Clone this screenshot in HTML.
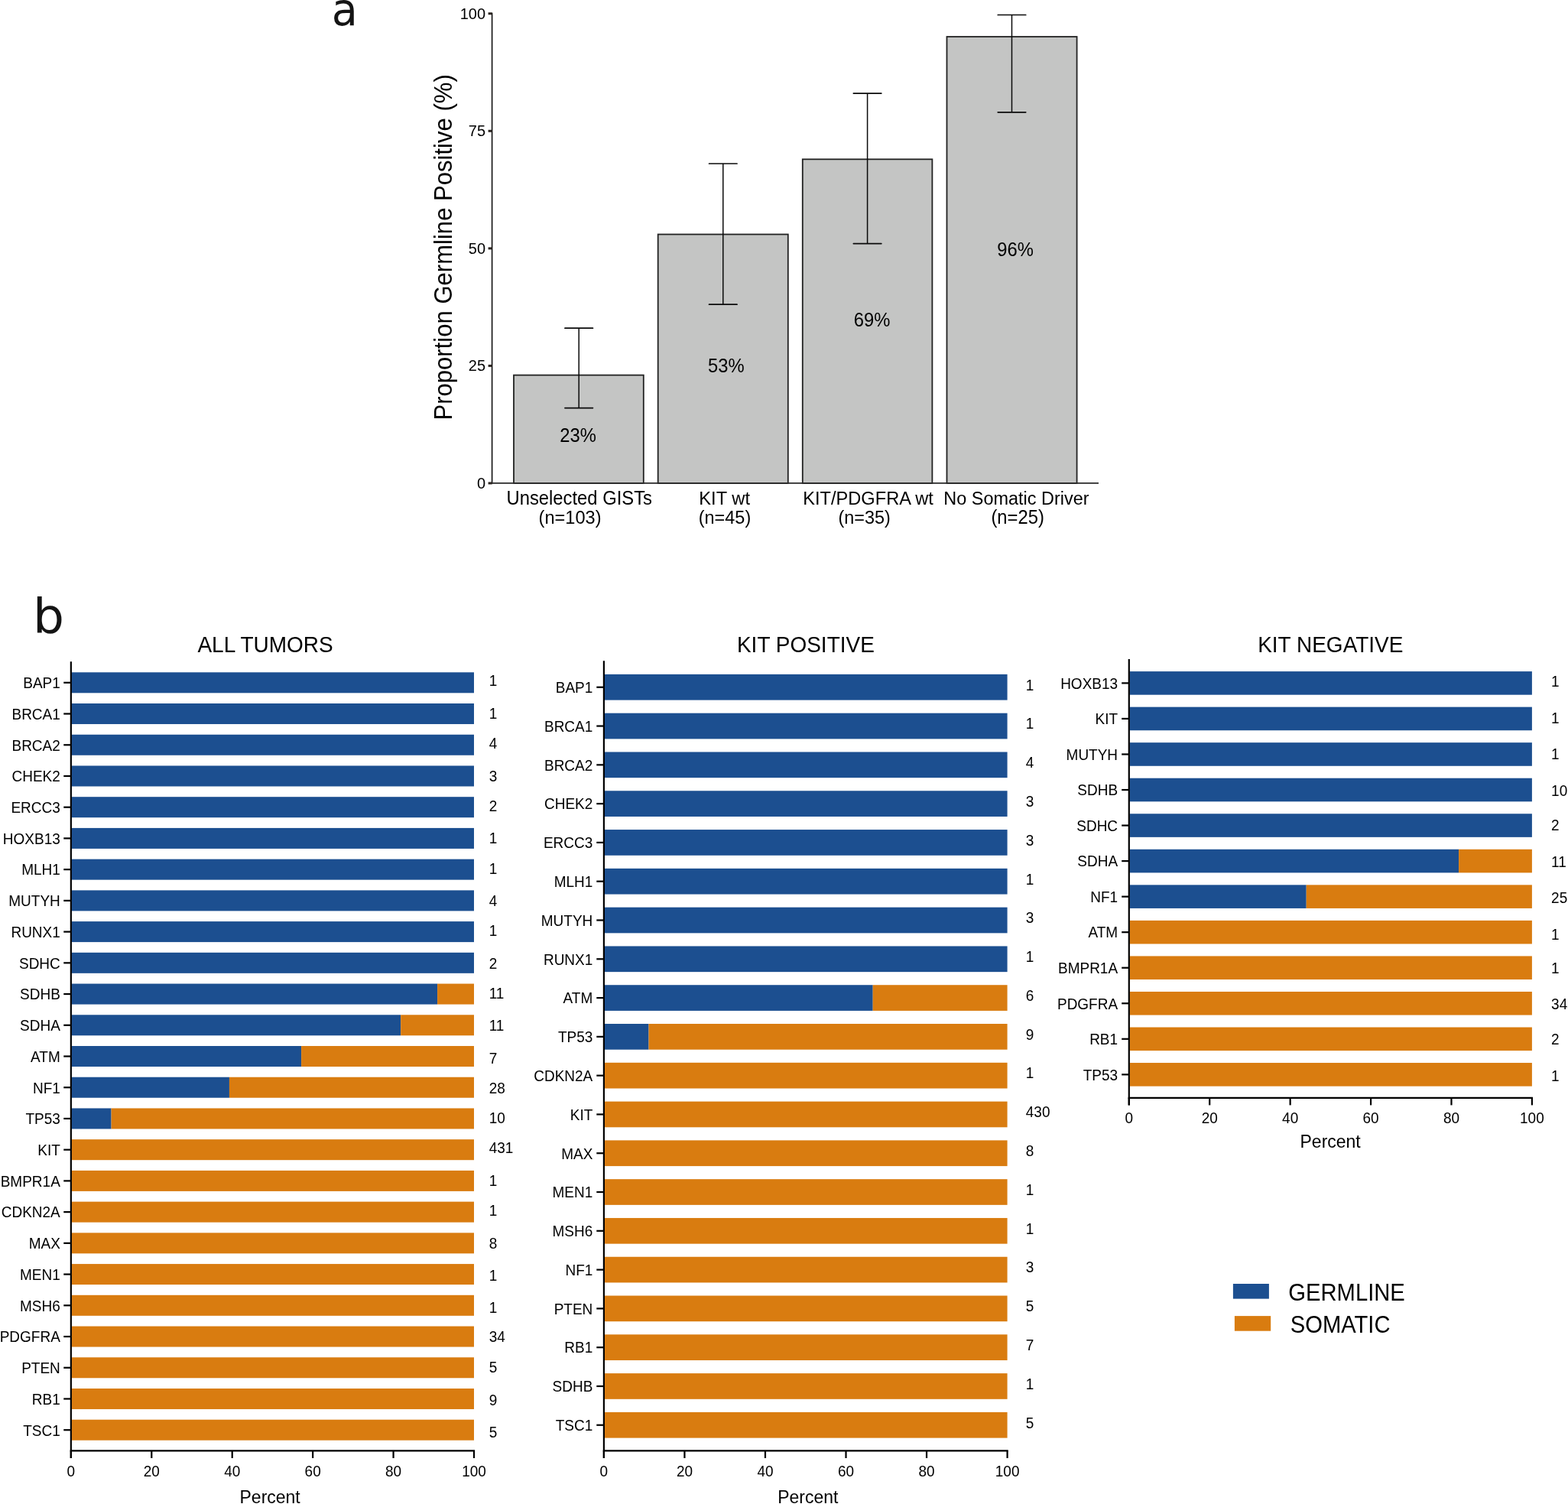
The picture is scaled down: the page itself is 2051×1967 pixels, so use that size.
<!DOCTYPE html><html><head><meta charset="utf-8"><title>Germline and somatic alterations in GIST</title><style>html,body{margin:0;padding:0;background:#fff}body{width:2051px;height:1967px}svg{display:block}text{font-family:'Liberation Sans', Arial, Helvetica, sans-serif}</style></head><body>
<svg width="2051" height="1967" viewBox="0 0 2051 1967">
<rect width="2051" height="1967" fill="#fff"/>
<rect x="672.00" y="490.60" width="169.80" height="141.35" fill="#c4c5c4" stroke="#222" stroke-width="1.8"/>
<rect x="860.70" y="306.50" width="170.10" height="325.45" fill="#c4c5c4" stroke="#222" stroke-width="1.8"/>
<rect x="1049.80" y="208.30" width="169.60" height="423.65" fill="#c4c5c4" stroke="#222" stroke-width="1.8"/>
<rect x="1238.50" y="48.00" width="170.10" height="583.95" fill="#c4c5c4" stroke="#222" stroke-width="1.8"/>
<line x1="757.20" y1="429.20" x2="757.20" y2="533.60" stroke="#0a0a0a" stroke-width="1.5" stroke-linecap="butt"/>
<line x1="738.95" y1="429.20" x2="775.45" y2="429.20" stroke="#0a0a0a" stroke-width="1.7" stroke-linecap="round"/>
<line x1="738.95" y1="533.60" x2="775.45" y2="533.60" stroke="#0a0a0a" stroke-width="1.7" stroke-linecap="round"/>
<line x1="945.80" y1="214.00" x2="945.80" y2="398.20" stroke="#0a0a0a" stroke-width="1.5" stroke-linecap="butt"/>
<line x1="927.55" y1="214.00" x2="964.05" y2="214.00" stroke="#0a0a0a" stroke-width="1.7" stroke-linecap="round"/>
<line x1="927.55" y1="398.20" x2="964.05" y2="398.20" stroke="#0a0a0a" stroke-width="1.7" stroke-linecap="round"/>
<line x1="1134.60" y1="122.10" x2="1134.60" y2="318.60" stroke="#0a0a0a" stroke-width="1.5" stroke-linecap="butt"/>
<line x1="1116.35" y1="122.10" x2="1152.85" y2="122.10" stroke="#0a0a0a" stroke-width="1.7" stroke-linecap="round"/>
<line x1="1116.35" y1="318.60" x2="1152.85" y2="318.60" stroke="#0a0a0a" stroke-width="1.7" stroke-linecap="round"/>
<line x1="1323.50" y1="19.50" x2="1323.50" y2="146.80" stroke="#0a0a0a" stroke-width="1.5" stroke-linecap="butt"/>
<line x1="1305.25" y1="19.50" x2="1341.75" y2="19.50" stroke="#0a0a0a" stroke-width="1.7" stroke-linecap="round"/>
<line x1="1305.25" y1="146.80" x2="1341.75" y2="146.80" stroke="#0a0a0a" stroke-width="1.7" stroke-linecap="round"/>
<line x1="643.60" y1="16.75" x2="643.60" y2="632.75" stroke="#111" stroke-width="1.6" stroke-linecap="butt"/>
<line x1="642.90" y1="631.95" x2="1437.00" y2="631.95" stroke="#2a2a2a" stroke-width="1.7" stroke-linecap="butt"/>
<line x1="638.60" y1="631.95" x2="643.60" y2="631.95" stroke="#2a2420" stroke-width="3.0" stroke-linecap="butt"/>
<line x1="638.60" y1="478.40" x2="643.60" y2="478.40" stroke="#2a2420" stroke-width="3.0" stroke-linecap="butt"/>
<line x1="638.60" y1="324.85" x2="643.60" y2="324.85" stroke="#2a2420" stroke-width="3.0" stroke-linecap="butt"/>
<line x1="638.60" y1="171.30" x2="643.60" y2="171.30" stroke="#2a2420" stroke-width="3.0" stroke-linecap="butt"/>
<line x1="638.60" y1="17.75" x2="643.60" y2="17.75" stroke="#2a2420" stroke-width="3.0" stroke-linecap="butt"/>
<rect x="93.85" y="879.30" width="526.15" height="27.00" fill="#1c4f90"/>
<line x1="83.25" y1="892.80" x2="92.85" y2="892.80" stroke="#000" stroke-width="2.2" stroke-linecap="butt"/>
<rect x="93.85" y="920.02" width="526.15" height="27.00" fill="#1c4f90"/>
<line x1="83.25" y1="933.52" x2="92.85" y2="933.52" stroke="#000" stroke-width="2.2" stroke-linecap="butt"/>
<rect x="93.85" y="960.75" width="526.15" height="27.00" fill="#1c4f90"/>
<line x1="83.25" y1="974.25" x2="92.85" y2="974.25" stroke="#000" stroke-width="2.2" stroke-linecap="butt"/>
<rect x="93.85" y="1001.47" width="526.15" height="27.00" fill="#1c4f90"/>
<line x1="83.25" y1="1014.97" x2="92.85" y2="1014.97" stroke="#000" stroke-width="2.2" stroke-linecap="butt"/>
<rect x="93.85" y="1042.20" width="526.15" height="27.00" fill="#1c4f90"/>
<line x1="83.25" y1="1055.70" x2="92.85" y2="1055.70" stroke="#000" stroke-width="2.2" stroke-linecap="butt"/>
<rect x="93.85" y="1082.92" width="526.15" height="27.00" fill="#1c4f90"/>
<line x1="83.25" y1="1096.42" x2="92.85" y2="1096.42" stroke="#000" stroke-width="2.2" stroke-linecap="butt"/>
<rect x="93.85" y="1123.65" width="526.15" height="27.00" fill="#1c4f90"/>
<line x1="83.25" y1="1137.15" x2="92.85" y2="1137.15" stroke="#000" stroke-width="2.2" stroke-linecap="butt"/>
<rect x="93.85" y="1164.38" width="526.15" height="27.00" fill="#1c4f90"/>
<line x1="83.25" y1="1177.88" x2="92.85" y2="1177.88" stroke="#000" stroke-width="2.2" stroke-linecap="butt"/>
<rect x="93.85" y="1205.10" width="526.15" height="27.00" fill="#1c4f90"/>
<line x1="83.25" y1="1218.60" x2="92.85" y2="1218.60" stroke="#000" stroke-width="2.2" stroke-linecap="butt"/>
<rect x="93.85" y="1245.83" width="526.15" height="27.00" fill="#1c4f90"/>
<line x1="83.25" y1="1259.33" x2="92.85" y2="1259.33" stroke="#000" stroke-width="2.2" stroke-linecap="butt"/>
<rect x="93.85" y="1286.55" width="478.23" height="27.00" fill="#1c4f90"/>
<rect x="572.08" y="1286.55" width="47.92" height="27.00" fill="#d97c10"/>
<line x1="83.25" y1="1300.05" x2="92.85" y2="1300.05" stroke="#000" stroke-width="2.2" stroke-linecap="butt"/>
<rect x="93.85" y="1327.28" width="430.30" height="27.00" fill="#1c4f90"/>
<rect x="524.15" y="1327.28" width="95.85" height="27.00" fill="#d97c10"/>
<line x1="83.25" y1="1340.78" x2="92.85" y2="1340.78" stroke="#000" stroke-width="2.2" stroke-linecap="butt"/>
<rect x="93.85" y="1368.00" width="300.23" height="27.00" fill="#1c4f90"/>
<rect x="394.08" y="1368.00" width="225.92" height="27.00" fill="#d97c10"/>
<line x1="83.25" y1="1381.50" x2="92.85" y2="1381.50" stroke="#000" stroke-width="2.2" stroke-linecap="butt"/>
<rect x="93.85" y="1408.72" width="206.09" height="27.00" fill="#1c4f90"/>
<rect x="299.94" y="1408.72" width="320.06" height="27.00" fill="#d97c10"/>
<line x1="83.25" y1="1422.22" x2="92.85" y2="1422.22" stroke="#000" stroke-width="2.2" stroke-linecap="butt"/>
<rect x="93.85" y="1449.45" width="51.72" height="27.00" fill="#1c4f90"/>
<rect x="145.56" y="1449.45" width="474.44" height="27.00" fill="#d97c10"/>
<line x1="83.25" y1="1462.95" x2="92.85" y2="1462.95" stroke="#000" stroke-width="2.2" stroke-linecap="butt"/>
<rect x="93.85" y="1490.17" width="526.15" height="27.00" fill="#d97c10"/>
<line x1="83.25" y1="1503.67" x2="92.85" y2="1503.67" stroke="#000" stroke-width="2.2" stroke-linecap="butt"/>
<rect x="93.85" y="1530.90" width="526.15" height="27.00" fill="#d97c10"/>
<line x1="83.25" y1="1544.40" x2="92.85" y2="1544.40" stroke="#000" stroke-width="2.2" stroke-linecap="butt"/>
<rect x="93.85" y="1571.62" width="526.15" height="27.00" fill="#d97c10"/>
<line x1="83.25" y1="1585.12" x2="92.85" y2="1585.12" stroke="#000" stroke-width="2.2" stroke-linecap="butt"/>
<rect x="93.85" y="1612.35" width="526.15" height="27.00" fill="#d97c10"/>
<line x1="83.25" y1="1625.85" x2="92.85" y2="1625.85" stroke="#000" stroke-width="2.2" stroke-linecap="butt"/>
<rect x="93.85" y="1653.07" width="526.15" height="27.00" fill="#d97c10"/>
<line x1="83.25" y1="1666.57" x2="92.85" y2="1666.57" stroke="#000" stroke-width="2.2" stroke-linecap="butt"/>
<rect x="93.85" y="1693.80" width="526.15" height="27.00" fill="#d97c10"/>
<line x1="83.25" y1="1707.30" x2="92.85" y2="1707.30" stroke="#000" stroke-width="2.2" stroke-linecap="butt"/>
<rect x="93.85" y="1734.53" width="526.15" height="27.00" fill="#d97c10"/>
<line x1="83.25" y1="1748.03" x2="92.85" y2="1748.03" stroke="#000" stroke-width="2.2" stroke-linecap="butt"/>
<rect x="93.85" y="1775.25" width="526.15" height="27.00" fill="#d97c10"/>
<line x1="83.25" y1="1788.75" x2="92.85" y2="1788.75" stroke="#000" stroke-width="2.2" stroke-linecap="butt"/>
<rect x="93.85" y="1815.97" width="526.15" height="27.00" fill="#d97c10"/>
<line x1="83.25" y1="1829.47" x2="92.85" y2="1829.47" stroke="#000" stroke-width="2.2" stroke-linecap="butt"/>
<rect x="93.85" y="1856.70" width="526.15" height="27.00" fill="#d97c10"/>
<line x1="83.25" y1="1870.20" x2="92.85" y2="1870.20" stroke="#000" stroke-width="2.2" stroke-linecap="butt"/>
<line x1="92.85" y1="865.30" x2="92.85" y2="1907.00" stroke="#000" stroke-width="2.2" stroke-linecap="butt"/>
<line x1="91.75" y1="1897.40" x2="621.10" y2="1897.40" stroke="#000" stroke-width="2.2" stroke-linecap="butt"/>
<line x1="92.85" y1="1897.40" x2="92.85" y2="1907.00" stroke="#000" stroke-width="2.2" stroke-linecap="butt"/>
<line x1="198.28" y1="1897.40" x2="198.28" y2="1907.00" stroke="#000" stroke-width="2.2" stroke-linecap="butt"/>
<line x1="303.71" y1="1897.40" x2="303.71" y2="1907.00" stroke="#000" stroke-width="2.2" stroke-linecap="butt"/>
<line x1="409.14" y1="1897.40" x2="409.14" y2="1907.00" stroke="#000" stroke-width="2.2" stroke-linecap="butt"/>
<line x1="514.57" y1="1897.40" x2="514.57" y2="1907.00" stroke="#000" stroke-width="2.2" stroke-linecap="butt"/>
<line x1="620.00" y1="1897.40" x2="620.00" y2="1907.00" stroke="#000" stroke-width="2.2" stroke-linecap="butt"/>
<rect x="790.90" y="881.90" width="526.70" height="33.70" fill="#1c4f90"/>
<line x1="780.30" y1="898.75" x2="789.90" y2="898.75" stroke="#000" stroke-width="2.2" stroke-linecap="butt"/>
<rect x="790.90" y="932.69" width="526.70" height="33.70" fill="#1c4f90"/>
<line x1="780.30" y1="949.54" x2="789.90" y2="949.54" stroke="#000" stroke-width="2.2" stroke-linecap="butt"/>
<rect x="790.90" y="983.48" width="526.70" height="33.70" fill="#1c4f90"/>
<line x1="780.30" y1="1000.33" x2="789.90" y2="1000.33" stroke="#000" stroke-width="2.2" stroke-linecap="butt"/>
<rect x="790.90" y="1034.27" width="526.70" height="33.70" fill="#1c4f90"/>
<line x1="780.30" y1="1051.12" x2="789.90" y2="1051.12" stroke="#000" stroke-width="2.2" stroke-linecap="butt"/>
<rect x="790.90" y="1085.06" width="526.70" height="33.70" fill="#1c4f90"/>
<line x1="780.30" y1="1101.91" x2="789.90" y2="1101.91" stroke="#000" stroke-width="2.2" stroke-linecap="butt"/>
<rect x="790.90" y="1135.85" width="526.70" height="33.70" fill="#1c4f90"/>
<line x1="780.30" y1="1152.70" x2="789.90" y2="1152.70" stroke="#000" stroke-width="2.2" stroke-linecap="butt"/>
<rect x="790.90" y="1186.64" width="526.70" height="33.70" fill="#1c4f90"/>
<line x1="780.30" y1="1203.49" x2="789.90" y2="1203.49" stroke="#000" stroke-width="2.2" stroke-linecap="butt"/>
<rect x="790.90" y="1237.43" width="526.70" height="33.70" fill="#1c4f90"/>
<line x1="780.30" y1="1254.28" x2="789.90" y2="1254.28" stroke="#000" stroke-width="2.2" stroke-linecap="butt"/>
<rect x="790.90" y="1288.22" width="350.80" height="33.70" fill="#1c4f90"/>
<rect x="1141.70" y="1288.22" width="175.90" height="33.70" fill="#d97c10"/>
<line x1="780.30" y1="1305.07" x2="789.90" y2="1305.07" stroke="#000" stroke-width="2.2" stroke-linecap="butt"/>
<rect x="790.90" y="1339.01" width="57.63" height="33.70" fill="#1c4f90"/>
<rect x="848.53" y="1339.01" width="469.07" height="33.70" fill="#d97c10"/>
<line x1="780.30" y1="1355.86" x2="789.90" y2="1355.86" stroke="#000" stroke-width="2.2" stroke-linecap="butt"/>
<rect x="790.90" y="1389.80" width="526.70" height="33.70" fill="#d97c10"/>
<line x1="780.30" y1="1406.65" x2="789.90" y2="1406.65" stroke="#000" stroke-width="2.2" stroke-linecap="butt"/>
<rect x="790.90" y="1440.59" width="526.70" height="33.70" fill="#d97c10"/>
<line x1="780.30" y1="1457.44" x2="789.90" y2="1457.44" stroke="#000" stroke-width="2.2" stroke-linecap="butt"/>
<rect x="790.90" y="1491.38" width="526.70" height="33.70" fill="#d97c10"/>
<line x1="780.30" y1="1508.23" x2="789.90" y2="1508.23" stroke="#000" stroke-width="2.2" stroke-linecap="butt"/>
<rect x="790.90" y="1542.17" width="526.70" height="33.70" fill="#d97c10"/>
<line x1="780.30" y1="1559.02" x2="789.90" y2="1559.02" stroke="#000" stroke-width="2.2" stroke-linecap="butt"/>
<rect x="790.90" y="1592.96" width="526.70" height="33.70" fill="#d97c10"/>
<line x1="780.30" y1="1609.81" x2="789.90" y2="1609.81" stroke="#000" stroke-width="2.2" stroke-linecap="butt"/>
<rect x="790.90" y="1643.75" width="526.70" height="33.70" fill="#d97c10"/>
<line x1="780.30" y1="1660.60" x2="789.90" y2="1660.60" stroke="#000" stroke-width="2.2" stroke-linecap="butt"/>
<rect x="790.90" y="1694.54" width="526.70" height="33.70" fill="#d97c10"/>
<line x1="780.30" y1="1711.39" x2="789.90" y2="1711.39" stroke="#000" stroke-width="2.2" stroke-linecap="butt"/>
<rect x="790.90" y="1745.33" width="526.70" height="33.70" fill="#d97c10"/>
<line x1="780.30" y1="1762.18" x2="789.90" y2="1762.18" stroke="#000" stroke-width="2.2" stroke-linecap="butt"/>
<rect x="790.90" y="1796.12" width="526.70" height="33.70" fill="#d97c10"/>
<line x1="780.30" y1="1812.97" x2="789.90" y2="1812.97" stroke="#000" stroke-width="2.2" stroke-linecap="butt"/>
<rect x="790.90" y="1846.91" width="526.70" height="33.70" fill="#d97c10"/>
<line x1="780.30" y1="1863.76" x2="789.90" y2="1863.76" stroke="#000" stroke-width="2.2" stroke-linecap="butt"/>
<line x1="789.90" y1="864.30" x2="789.90" y2="1907.00" stroke="#000" stroke-width="2.2" stroke-linecap="butt"/>
<line x1="788.80" y1="1897.40" x2="1318.70" y2="1897.40" stroke="#000" stroke-width="2.2" stroke-linecap="butt"/>
<line x1="789.90" y1="1897.40" x2="789.90" y2="1907.00" stroke="#000" stroke-width="2.2" stroke-linecap="butt"/>
<line x1="895.44" y1="1897.40" x2="895.44" y2="1907.00" stroke="#000" stroke-width="2.2" stroke-linecap="butt"/>
<line x1="1000.98" y1="1897.40" x2="1000.98" y2="1907.00" stroke="#000" stroke-width="2.2" stroke-linecap="butt"/>
<line x1="1106.52" y1="1897.40" x2="1106.52" y2="1907.00" stroke="#000" stroke-width="2.2" stroke-linecap="butt"/>
<line x1="1212.06" y1="1897.40" x2="1212.06" y2="1907.00" stroke="#000" stroke-width="2.2" stroke-linecap="butt"/>
<line x1="1317.60" y1="1897.40" x2="1317.60" y2="1907.00" stroke="#000" stroke-width="2.2" stroke-linecap="butt"/>
<rect x="1477.80" y="878.10" width="526.10" height="30.60" fill="#1c4f90"/>
<line x1="1467.20" y1="893.40" x2="1476.80" y2="893.40" stroke="#000" stroke-width="2.2" stroke-linecap="butt"/>
<rect x="1477.80" y="924.64" width="526.10" height="30.60" fill="#1c4f90"/>
<line x1="1467.20" y1="939.94" x2="1476.80" y2="939.94" stroke="#000" stroke-width="2.2" stroke-linecap="butt"/>
<rect x="1477.80" y="971.18" width="526.10" height="30.60" fill="#1c4f90"/>
<line x1="1467.20" y1="986.48" x2="1476.80" y2="986.48" stroke="#000" stroke-width="2.2" stroke-linecap="butt"/>
<rect x="1477.80" y="1017.72" width="526.10" height="30.60" fill="#1c4f90"/>
<line x1="1467.20" y1="1033.02" x2="1476.80" y2="1033.02" stroke="#000" stroke-width="2.2" stroke-linecap="butt"/>
<rect x="1477.80" y="1064.26" width="526.10" height="30.60" fill="#1c4f90"/>
<line x1="1467.20" y1="1079.56" x2="1476.80" y2="1079.56" stroke="#000" stroke-width="2.2" stroke-linecap="butt"/>
<rect x="1477.80" y="1110.80" width="430.26" height="30.60" fill="#1c4f90"/>
<rect x="1908.06" y="1110.80" width="95.84" height="30.60" fill="#d97c10"/>
<line x1="1467.20" y1="1126.10" x2="1476.80" y2="1126.10" stroke="#000" stroke-width="2.2" stroke-linecap="butt"/>
<rect x="1477.80" y="1157.34" width="230.92" height="30.60" fill="#1c4f90"/>
<rect x="1708.72" y="1157.34" width="295.18" height="30.60" fill="#d97c10"/>
<line x1="1467.20" y1="1172.64" x2="1476.80" y2="1172.64" stroke="#000" stroke-width="2.2" stroke-linecap="butt"/>
<rect x="1477.80" y="1203.88" width="526.10" height="30.60" fill="#d97c10"/>
<line x1="1467.20" y1="1219.18" x2="1476.80" y2="1219.18" stroke="#000" stroke-width="2.2" stroke-linecap="butt"/>
<rect x="1477.80" y="1250.42" width="526.10" height="30.60" fill="#d97c10"/>
<line x1="1467.20" y1="1265.72" x2="1476.80" y2="1265.72" stroke="#000" stroke-width="2.2" stroke-linecap="butt"/>
<rect x="1477.80" y="1296.96" width="526.10" height="30.60" fill="#d97c10"/>
<line x1="1467.20" y1="1312.26" x2="1476.80" y2="1312.26" stroke="#000" stroke-width="2.2" stroke-linecap="butt"/>
<rect x="1477.80" y="1343.50" width="526.10" height="30.60" fill="#d97c10"/>
<line x1="1467.20" y1="1358.80" x2="1476.80" y2="1358.80" stroke="#000" stroke-width="2.2" stroke-linecap="butt"/>
<rect x="1477.80" y="1390.04" width="526.10" height="30.60" fill="#d97c10"/>
<line x1="1467.20" y1="1405.34" x2="1476.80" y2="1405.34" stroke="#000" stroke-width="2.2" stroke-linecap="butt"/>
<line x1="1476.80" y1="862.00" x2="1476.80" y2="1445.40" stroke="#000" stroke-width="2.2" stroke-linecap="butt"/>
<line x1="1475.70" y1="1435.80" x2="2005.00" y2="1435.80" stroke="#000" stroke-width="2.2" stroke-linecap="butt"/>
<line x1="1476.80" y1="1435.80" x2="1476.80" y2="1445.40" stroke="#000" stroke-width="2.2" stroke-linecap="butt"/>
<line x1="1582.22" y1="1435.80" x2="1582.22" y2="1445.40" stroke="#000" stroke-width="2.2" stroke-linecap="butt"/>
<line x1="1687.64" y1="1435.80" x2="1687.64" y2="1445.40" stroke="#000" stroke-width="2.2" stroke-linecap="butt"/>
<line x1="1793.06" y1="1435.80" x2="1793.06" y2="1445.40" stroke="#000" stroke-width="2.2" stroke-linecap="butt"/>
<line x1="1898.48" y1="1435.80" x2="1898.48" y2="1445.40" stroke="#000" stroke-width="2.2" stroke-linecap="butt"/>
<line x1="2003.90" y1="1435.80" x2="2003.90" y2="1445.40" stroke="#000" stroke-width="2.2" stroke-linecap="butt"/>
<rect x="1612.90" y="1679.00" width="47.00" height="19.60" fill="#1c4f90"/>
<rect x="1614.90" y="1721.10" width="47.30" height="19.60" fill="#d97c10"/>
<text id="lab_a" font-size="58.62" style="fill:#141414;font-family:'DejaVu Sans',sans-serif;" transform="translate(433.66,33.37) scale(0.9495,1.0000)">a</text>
<text id="yt0" font-size="20.00" text-anchor="end" transform="translate(635.03,638.95) scale(1.0000,1.0450)">0</text>
<text id="yt25" font-size="20.00" text-anchor="end" transform="translate(635.09,485.40) scale(1.0000,1.0450)">25</text>
<text id="yt50" font-size="20.00" text-anchor="end" transform="translate(635.03,331.85) scale(1.0000,1.0450)">50</text>
<text id="yt75" font-size="20.00" text-anchor="end" transform="translate(635.09,178.30) scale(1.0000,1.0450)">75</text>
<text id="yt100" font-size="20.00" text-anchor="end" transform="translate(635.03,24.75) scale(1.0000,1.0450)">100</text>
<text id="pct0" font-size="23.80" text-anchor="middle" transform="translate(756.01,577.60) scale(1.0000,1.0450)">23%</text>
<text id="pct1" font-size="23.80" text-anchor="middle" transform="translate(949.75,487.31) scale(1.0000,1.0450)">53%</text>
<text id="pct2" font-size="23.80" text-anchor="middle" transform="translate(1140.54,426.50) scale(1.0000,1.0450)">69%</text>
<text id="pct3" font-size="23.80" text-anchor="middle" transform="translate(1328.07,334.65) scale(1.0000,1.0450)">96%</text>
<text id="xl0a" font-size="23.79" text-anchor="middle" transform="translate(757.75,659.90) scale(1.0000,1.0450)">Unselected GISTs</text>
<text id="xl0b" font-size="23.59" text-anchor="middle" transform="translate(745.56,684.90) scale(1.0000,1.0450)">(n=103)</text>
<text id="xl1a" font-size="23.75" text-anchor="middle" transform="translate(947.68,659.90) scale(1.0000,1.0450)">KIT wt</text>
<text id="xl1b" font-size="23.47" text-anchor="middle" transform="translate(947.99,684.90) scale(1.0000,1.0450)">(n=45)</text>
<text id="xl2a" font-size="23.64" text-anchor="middle" transform="translate(1135.52,659.90) scale(1.0000,1.0450)">KIT/PDGFRA wt</text>
<text id="xl2b" font-size="23.47" text-anchor="middle" transform="translate(1130.69,684.90) scale(1.0000,1.0450)">(n=35)</text>
<text id="xl3a" font-size="23.48" text-anchor="middle" transform="translate(1329.48,659.90) scale(1.0000,1.0450)">No Somatic Driver</text>
<text id="xl3b" font-size="23.83" text-anchor="middle" transform="translate(1331.19,684.90) scale(1.0000,1.0450)">(n=25)</text>
<text id="ytitle" font-size="31.07" text-anchor="middle" transform="translate(591.20,323.39) rotate(-90) scale(1.0000,1.0450)">Proportion Germline Positive (%)</text>
<text id="lab_b" font-size="61.62" style="fill:#141414;font-family:'DejaVu Sans',sans-serif;" transform="translate(43.05,827.23) scale(1.0478,1.0000)">b</text>
<text id="head0" font-size="28.00" text-anchor="middle" transform="translate(347.08,853.10) scale(1.0000,1.0450)">ALL TUMORS</text>
<text id="head1" font-size="28.00" text-anchor="middle" transform="translate(1053.90,853.10) scale(1.0000,1.0450)">KIT POSITIVE</text>
<text id="head2" font-size="28.00" text-anchor="middle" transform="translate(1740.30,853.10) scale(1.0000,1.0450)">KIT NEGATIVE</text>
<text id="ALLTUMORS_g0" font-size="19.00" text-anchor="end" transform="translate(78.80,900.10) scale(1.0000,1.0450)">BAP1</text>
<text id="ALLTUMORS_c0" font-size="19.00" transform="translate(639.70,897.30) scale(1.0000,1.0450)">1</text>
<text id="ALLTUMORS_g1" font-size="19.00" text-anchor="end" transform="translate(78.80,940.82) scale(1.0000,1.0450)">BRCA1</text>
<text id="ALLTUMORS_c1" font-size="19.00" transform="translate(639.70,940.00) scale(1.0000,1.0450)">1</text>
<text id="ALLTUMORS_g2" font-size="19.00" text-anchor="end" transform="translate(78.80,981.55) scale(1.0000,1.0450)">BRCA2</text>
<text id="ALLTUMORS_c2" font-size="19.00" transform="translate(639.70,979.30) scale(1.0000,1.0450)">4</text>
<text id="ALLTUMORS_g3" font-size="19.00" text-anchor="end" transform="translate(78.80,1022.27) scale(1.0000,1.0450)">CHEK2</text>
<text id="ALLTUMORS_c3" font-size="19.00" transform="translate(639.70,1021.80) scale(1.0000,1.0450)">3</text>
<text id="ALLTUMORS_g4" font-size="19.00" text-anchor="end" transform="translate(78.80,1063.00) scale(1.0000,1.0450)">ERCC3</text>
<text id="ALLTUMORS_c4" font-size="19.00" transform="translate(639.70,1060.80) scale(1.0000,1.0450)">2</text>
<text id="ALLTUMORS_g5" font-size="19.00" text-anchor="end" transform="translate(78.80,1103.72) scale(1.0000,1.0450)">HOXB13</text>
<text id="ALLTUMORS_c5" font-size="19.00" transform="translate(639.70,1103.30) scale(1.0000,1.0450)">1</text>
<text id="ALLTUMORS_g6" font-size="19.00" text-anchor="end" transform="translate(78.80,1144.45) scale(1.0000,1.0450)">MLH1</text>
<text id="ALLTUMORS_c6" font-size="19.00" transform="translate(639.70,1142.60) scale(1.0000,1.0450)">1</text>
<text id="ALLTUMORS_g7" font-size="19.00" text-anchor="end" transform="translate(78.80,1185.17) scale(1.0000,1.0450)">MUTYH</text>
<text id="ALLTUMORS_c7" font-size="19.00" transform="translate(639.70,1184.60) scale(1.0000,1.0450)">4</text>
<text id="ALLTUMORS_g8" font-size="19.00" text-anchor="end" transform="translate(78.80,1225.90) scale(1.0000,1.0450)">RUNX1</text>
<text id="ALLTUMORS_c8" font-size="19.00" transform="translate(639.70,1224.10) scale(1.0000,1.0450)">1</text>
<text id="ALLTUMORS_g9" font-size="19.00" text-anchor="end" transform="translate(78.80,1266.62) scale(1.0000,1.0450)">SDHC</text>
<text id="ALLTUMORS_c9" font-size="19.00" transform="translate(639.70,1267.20) scale(1.0000,1.0450)">2</text>
<text id="ALLTUMORS_g10" font-size="19.00" text-anchor="end" transform="translate(78.80,1307.35) scale(1.0000,1.0450)">SDHB</text>
<text id="ALLTUMORS_c10" font-size="19.00" transform="translate(639.70,1305.60) scale(1.0000,1.0450)">11</text>
<text id="ALLTUMORS_g11" font-size="19.00" text-anchor="end" transform="translate(78.80,1348.08) scale(1.0000,1.0450)">SDHA</text>
<text id="ALLTUMORS_c11" font-size="19.00" transform="translate(639.70,1348.30) scale(1.0000,1.0450)">11</text>
<text id="ALLTUMORS_g12" font-size="19.00" text-anchor="end" transform="translate(78.80,1388.80) scale(1.0000,1.0450)">ATM</text>
<text id="ALLTUMORS_c12" font-size="19.00" transform="translate(639.70,1390.50) scale(1.0000,1.0450)">7</text>
<text id="ALLTUMORS_g13" font-size="19.00" text-anchor="end" transform="translate(78.80,1429.52) scale(1.0000,1.0450)">NF1</text>
<text id="ALLTUMORS_c13" font-size="19.00" transform="translate(639.70,1429.80) scale(1.0000,1.0450)">28</text>
<text id="ALLTUMORS_g14" font-size="19.00" text-anchor="end" transform="translate(78.80,1470.25) scale(1.0000,1.0450)">TP53</text>
<text id="ALLTUMORS_c14" font-size="19.00" transform="translate(639.70,1468.90) scale(1.0000,1.0450)">10</text>
<text id="ALLTUMORS_g15" font-size="19.00" text-anchor="end" transform="translate(78.80,1510.97) scale(1.0000,1.0450)">KIT</text>
<text id="ALLTUMORS_c15" font-size="19.00" transform="translate(639.70,1507.80) scale(1.0000,1.0450)">431</text>
<text id="ALLTUMORS_g16" font-size="19.00" text-anchor="end" transform="translate(78.80,1551.70) scale(1.0000,1.0450)">BMPR1A</text>
<text id="ALLTUMORS_c16" font-size="19.00" transform="translate(639.70,1550.90) scale(1.0000,1.0450)">1</text>
<text id="ALLTUMORS_g17" font-size="19.00" text-anchor="end" transform="translate(78.80,1592.42) scale(1.0000,1.0450)">CDKN2A</text>
<text id="ALLTUMORS_c17" font-size="19.00" transform="translate(639.70,1590.10) scale(1.0000,1.0450)">1</text>
<text id="ALLTUMORS_g18" font-size="19.00" text-anchor="end" transform="translate(78.80,1633.15) scale(1.0000,1.0450)">MAX</text>
<text id="ALLTUMORS_c18" font-size="19.00" transform="translate(639.70,1633.45) scale(1.0000,1.0450)">8</text>
<text id="ALLTUMORS_g19" font-size="19.00" text-anchor="end" transform="translate(78.80,1673.87) scale(1.0000,1.0450)">MEN1</text>
<text id="ALLTUMORS_c19" font-size="19.00" transform="translate(639.70,1675.05) scale(1.0000,1.0450)">1</text>
<text id="ALLTUMORS_g20" font-size="19.00" text-anchor="end" transform="translate(78.80,1714.60) scale(1.0000,1.0450)">MSH6</text>
<text id="ALLTUMORS_c20" font-size="19.00" transform="translate(639.70,1717.10) scale(1.0000,1.0450)">1</text>
<text id="ALLTUMORS_g21" font-size="19.00" text-anchor="end" transform="translate(78.80,1755.33) scale(1.0000,1.0450)">PDGFRA</text>
<text id="ALLTUMORS_c21" font-size="19.00" transform="translate(639.70,1755.30) scale(1.0000,1.0450)">34</text>
<text id="ALLTUMORS_g22" font-size="19.00" text-anchor="end" transform="translate(78.80,1796.05) scale(1.0000,1.0450)">PTEN</text>
<text id="ALLTUMORS_c22" font-size="19.00" transform="translate(639.70,1795.30) scale(1.0000,1.0450)">5</text>
<text id="ALLTUMORS_g23" font-size="19.00" text-anchor="end" transform="translate(78.80,1836.77) scale(1.0000,1.0450)">RB1</text>
<text id="ALLTUMORS_c23" font-size="19.00" transform="translate(639.70,1837.70) scale(1.0000,1.0450)">9</text>
<text id="ALLTUMORS_g24" font-size="19.00" text-anchor="end" transform="translate(78.80,1877.50) scale(1.0000,1.0450)">TSC1</text>
<text id="ALLTUMORS_c24" font-size="19.00" transform="translate(639.70,1880.00) scale(1.0000,1.0450)">5</text>
<text id="ALLTUMORS_xt0" font-size="19.00" text-anchor="middle" transform="translate(92.85,1930.70) scale(1.0000,1.0450)">0</text>
<text id="ALLTUMORS_xt20" font-size="19.00" text-anchor="middle" transform="translate(198.28,1930.70) scale(1.0000,1.0450)">20</text>
<text id="ALLTUMORS_xt40" font-size="19.00" text-anchor="middle" transform="translate(303.71,1930.70) scale(1.0000,1.0450)">40</text>
<text id="ALLTUMORS_xt60" font-size="19.00" text-anchor="middle" transform="translate(409.14,1930.70) scale(1.0000,1.0450)">60</text>
<text id="ALLTUMORS_xt80" font-size="19.00" text-anchor="middle" transform="translate(514.57,1930.70) scale(1.0000,1.0450)">80</text>
<text id="ALLTUMORS_xt100" font-size="19.00" text-anchor="middle" transform="translate(620.00,1930.70) scale(1.0000,1.0450)">100</text>
<text id="ALLTUMORS_pl" font-size="23.00" text-anchor="middle" transform="translate(353.12,1965.60) scale(1.0000,1.0450)">Percent</text>
<text id="KITPOSITIVE_g0" font-size="19.00" text-anchor="end" transform="translate(775.30,906.05) scale(1.0000,1.0450)">BAP1</text>
<text id="KITPOSITIVE_c0" font-size="19.00" transform="translate(1341.80,902.55) scale(1.0000,1.0450)">1</text>
<text id="KITPOSITIVE_g1" font-size="19.00" text-anchor="end" transform="translate(775.30,956.84) scale(1.0000,1.0450)">BRCA1</text>
<text id="KITPOSITIVE_c1" font-size="19.00" transform="translate(1341.80,953.34) scale(1.0000,1.0450)">1</text>
<text id="KITPOSITIVE_g2" font-size="19.00" text-anchor="end" transform="translate(775.30,1007.63) scale(1.0000,1.0450)">BRCA2</text>
<text id="KITPOSITIVE_c2" font-size="19.00" transform="translate(1341.80,1004.13) scale(1.0000,1.0450)">4</text>
<text id="KITPOSITIVE_g3" font-size="19.00" text-anchor="end" transform="translate(775.30,1058.42) scale(1.0000,1.0450)">CHEK2</text>
<text id="KITPOSITIVE_c3" font-size="19.00" transform="translate(1341.80,1054.92) scale(1.0000,1.0450)">3</text>
<text id="KITPOSITIVE_g4" font-size="19.00" text-anchor="end" transform="translate(775.30,1109.21) scale(1.0000,1.0450)">ERCC3</text>
<text id="KITPOSITIVE_c4" font-size="19.00" transform="translate(1341.80,1105.71) scale(1.0000,1.0450)">3</text>
<text id="KITPOSITIVE_g5" font-size="19.00" text-anchor="end" transform="translate(775.30,1160.00) scale(1.0000,1.0450)">MLH1</text>
<text id="KITPOSITIVE_c5" font-size="19.00" transform="translate(1341.80,1156.50) scale(1.0000,1.0450)">1</text>
<text id="KITPOSITIVE_g6" font-size="19.00" text-anchor="end" transform="translate(775.30,1210.79) scale(1.0000,1.0450)">MUTYH</text>
<text id="KITPOSITIVE_c6" font-size="19.00" transform="translate(1341.80,1207.29) scale(1.0000,1.0450)">3</text>
<text id="KITPOSITIVE_g7" font-size="19.00" text-anchor="end" transform="translate(775.30,1261.58) scale(1.0000,1.0450)">RUNX1</text>
<text id="KITPOSITIVE_c7" font-size="19.00" transform="translate(1341.80,1258.08) scale(1.0000,1.0450)">1</text>
<text id="KITPOSITIVE_g8" font-size="19.00" text-anchor="end" transform="translate(775.30,1312.37) scale(1.0000,1.0450)">ATM</text>
<text id="KITPOSITIVE_c8" font-size="19.00" transform="translate(1341.80,1308.87) scale(1.0000,1.0450)">6</text>
<text id="KITPOSITIVE_g9" font-size="19.00" text-anchor="end" transform="translate(775.30,1363.16) scale(1.0000,1.0450)">TP53</text>
<text id="KITPOSITIVE_c9" font-size="19.00" transform="translate(1341.80,1359.66) scale(1.0000,1.0450)">9</text>
<text id="KITPOSITIVE_g10" font-size="19.00" text-anchor="end" transform="translate(775.30,1413.95) scale(1.0000,1.0450)">CDKN2A</text>
<text id="KITPOSITIVE_c10" font-size="19.00" transform="translate(1341.80,1410.45) scale(1.0000,1.0450)">1</text>
<text id="KITPOSITIVE_g11" font-size="19.00" text-anchor="end" transform="translate(775.30,1464.74) scale(1.0000,1.0450)">KIT</text>
<text id="KITPOSITIVE_c11" font-size="19.00" transform="translate(1341.80,1461.24) scale(1.0000,1.0450)">430</text>
<text id="KITPOSITIVE_g12" font-size="19.00" text-anchor="end" transform="translate(775.30,1515.53) scale(1.0000,1.0450)">MAX</text>
<text id="KITPOSITIVE_c12" font-size="19.00" transform="translate(1341.80,1512.03) scale(1.0000,1.0450)">8</text>
<text id="KITPOSITIVE_g13" font-size="19.00" text-anchor="end" transform="translate(775.30,1566.32) scale(1.0000,1.0450)">MEN1</text>
<text id="KITPOSITIVE_c13" font-size="19.00" transform="translate(1341.80,1562.82) scale(1.0000,1.0450)">1</text>
<text id="KITPOSITIVE_g14" font-size="19.00" text-anchor="end" transform="translate(775.30,1617.11) scale(1.0000,1.0450)">MSH6</text>
<text id="KITPOSITIVE_c14" font-size="19.00" transform="translate(1341.80,1613.61) scale(1.0000,1.0450)">1</text>
<text id="KITPOSITIVE_g15" font-size="19.00" text-anchor="end" transform="translate(775.30,1667.90) scale(1.0000,1.0450)">NF1</text>
<text id="KITPOSITIVE_c15" font-size="19.00" transform="translate(1341.80,1664.40) scale(1.0000,1.0450)">3</text>
<text id="KITPOSITIVE_g16" font-size="19.00" text-anchor="end" transform="translate(775.30,1718.69) scale(1.0000,1.0450)">PTEN</text>
<text id="KITPOSITIVE_c16" font-size="19.00" transform="translate(1341.80,1715.19) scale(1.0000,1.0450)">5</text>
<text id="KITPOSITIVE_g17" font-size="19.00" text-anchor="end" transform="translate(775.30,1769.48) scale(1.0000,1.0450)">RB1</text>
<text id="KITPOSITIVE_c17" font-size="19.00" transform="translate(1341.80,1765.98) scale(1.0000,1.0450)">7</text>
<text id="KITPOSITIVE_g18" font-size="19.00" text-anchor="end" transform="translate(775.30,1820.27) scale(1.0000,1.0450)">SDHB</text>
<text id="KITPOSITIVE_c18" font-size="19.00" transform="translate(1341.80,1816.77) scale(1.0000,1.0450)">1</text>
<text id="KITPOSITIVE_g19" font-size="19.00" text-anchor="end" transform="translate(775.30,1871.06) scale(1.0000,1.0450)">TSC1</text>
<text id="KITPOSITIVE_c19" font-size="19.00" transform="translate(1341.80,1867.56) scale(1.0000,1.0450)">5</text>
<text id="KITPOSITIVE_xt0" font-size="19.00" text-anchor="middle" transform="translate(789.90,1930.70) scale(1.0000,1.0450)">0</text>
<text id="KITPOSITIVE_xt20" font-size="19.00" text-anchor="middle" transform="translate(895.44,1930.70) scale(1.0000,1.0450)">20</text>
<text id="KITPOSITIVE_xt40" font-size="19.00" text-anchor="middle" transform="translate(1000.98,1930.70) scale(1.0000,1.0450)">40</text>
<text id="KITPOSITIVE_xt60" font-size="19.00" text-anchor="middle" transform="translate(1106.52,1930.70) scale(1.0000,1.0450)">60</text>
<text id="KITPOSITIVE_xt80" font-size="19.00" text-anchor="middle" transform="translate(1212.06,1930.70) scale(1.0000,1.0450)">80</text>
<text id="KITPOSITIVE_xt100" font-size="19.00" text-anchor="middle" transform="translate(1317.60,1930.70) scale(1.0000,1.0450)">100</text>
<text id="KITPOSITIVE_pl" font-size="23.00" text-anchor="middle" transform="translate(1056.77,1965.60) scale(1.0000,1.0450)">Percent</text>
<text id="KITNEGATIVE_g0" font-size="19.00" text-anchor="end" transform="translate(1462.10,900.70) scale(1.0000,1.0450)">HOXB13</text>
<text id="KITNEGATIVE_c0" font-size="19.00" transform="translate(2029.10,897.70) scale(1.0000,1.0450)">1</text>
<text id="KITNEGATIVE_g1" font-size="19.00" text-anchor="end" transform="translate(1462.10,947.24) scale(1.0000,1.0450)">KIT</text>
<text id="KITNEGATIVE_c1" font-size="19.00" transform="translate(2029.10,946.10) scale(1.0000,1.0450)">1</text>
<text id="KITNEGATIVE_g2" font-size="19.00" text-anchor="end" transform="translate(1462.10,993.78) scale(1.0000,1.0450)">MUTYH</text>
<text id="KITNEGATIVE_c2" font-size="19.00" transform="translate(2029.10,993.40) scale(1.0000,1.0450)">1</text>
<text id="KITNEGATIVE_g3" font-size="19.00" text-anchor="end" transform="translate(1462.10,1040.32) scale(1.0000,1.0450)">SDHB</text>
<text id="KITNEGATIVE_c3" font-size="19.00" transform="translate(2029.10,1041.10) scale(1.0000,1.0450)">10</text>
<text id="KITNEGATIVE_g4" font-size="19.00" text-anchor="end" transform="translate(1462.10,1086.86) scale(1.0000,1.0450)">SDHC</text>
<text id="KITNEGATIVE_c4" font-size="19.00" transform="translate(2029.10,1086.20) scale(1.0000,1.0450)">2</text>
<text id="KITNEGATIVE_g5" font-size="19.00" text-anchor="end" transform="translate(1462.10,1133.40) scale(1.0000,1.0450)">SDHA</text>
<text id="KITNEGATIVE_c5" font-size="19.00" transform="translate(2029.10,1133.60) scale(1.0000,1.0450)">11</text>
<text id="KITNEGATIVE_g6" font-size="19.00" text-anchor="end" transform="translate(1462.10,1179.94) scale(1.0000,1.0450)">NF1</text>
<text id="KITNEGATIVE_c6" font-size="19.00" transform="translate(2029.10,1181.40) scale(1.0000,1.0450)">25</text>
<text id="KITNEGATIVE_g7" font-size="19.00" text-anchor="end" transform="translate(1462.10,1226.48) scale(1.0000,1.0450)">ATM</text>
<text id="KITNEGATIVE_c7" font-size="19.00" transform="translate(2029.10,1228.70) scale(1.0000,1.0450)">1</text>
<text id="KITNEGATIVE_g8" font-size="19.00" text-anchor="end" transform="translate(1462.10,1273.02) scale(1.0000,1.0450)">BMPR1A</text>
<text id="KITNEGATIVE_c8" font-size="19.00" transform="translate(2029.10,1273.20) scale(1.0000,1.0450)">1</text>
<text id="KITNEGATIVE_g9" font-size="19.00" text-anchor="end" transform="translate(1462.10,1319.56) scale(1.0000,1.0450)">PDGFRA</text>
<text id="KITNEGATIVE_c9" font-size="19.00" transform="translate(2029.10,1319.50) scale(1.0000,1.0450)">34</text>
<text id="KITNEGATIVE_g10" font-size="19.00" text-anchor="end" transform="translate(1462.10,1366.10) scale(1.0000,1.0450)">RB1</text>
<text id="KITNEGATIVE_c10" font-size="19.00" transform="translate(2029.10,1366.00) scale(1.0000,1.0450)">2</text>
<text id="KITNEGATIVE_g11" font-size="19.00" text-anchor="end" transform="translate(1462.10,1412.64) scale(1.0000,1.0450)">TP53</text>
<text id="KITNEGATIVE_c11" font-size="19.00" transform="translate(2029.10,1413.70) scale(1.0000,1.0450)">1</text>
<text id="KITNEGATIVE_xt0" font-size="19.00" text-anchor="middle" transform="translate(1476.80,1469.10) scale(1.0000,1.0450)">0</text>
<text id="KITNEGATIVE_xt20" font-size="19.00" text-anchor="middle" transform="translate(1582.22,1469.10) scale(1.0000,1.0450)">20</text>
<text id="KITNEGATIVE_xt40" font-size="19.00" text-anchor="middle" transform="translate(1687.64,1469.10) scale(1.0000,1.0450)">40</text>
<text id="KITNEGATIVE_xt60" font-size="19.00" text-anchor="middle" transform="translate(1793.06,1469.10) scale(1.0000,1.0450)">60</text>
<text id="KITNEGATIVE_xt80" font-size="19.00" text-anchor="middle" transform="translate(1898.48,1469.10) scale(1.0000,1.0450)">80</text>
<text id="KITNEGATIVE_xt100" font-size="19.00" text-anchor="middle" transform="translate(2003.90,1469.10) scale(1.0000,1.0450)">100</text>
<text id="KITNEGATIVE_pl" font-size="23.00" text-anchor="middle" transform="translate(1740.12,1501.40) scale(1.0000,1.0450)">Percent</text>
<text id="leg0" font-size="29.20" transform="translate(1685.34,1700.80) scale(1.0000,1.0450)">GERMLINE</text>
<text id="leg1" font-size="29.20" transform="translate(1687.73,1743.00) scale(1.0000,1.0450)">SOMATIC</text>
</svg></body></html>
